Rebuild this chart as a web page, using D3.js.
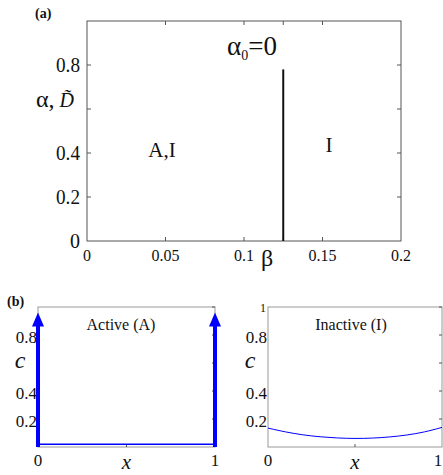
<!DOCTYPE html>
<html>
<head>
<meta charset="utf-8">
<script src="https://cdn.jsdelivr.net/npm/d3@7"></script>
<style>
  body { margin: 0; background: #fff; }
  svg text { font-family: "Liberation Serif", "Times New Roman", serif; fill: #111; }
</style>
</head>
<body>
<div id="chart"></div>
<script>
// panel (a): phase diagram
const aXTicks = [0, 0.05, 0.1, 0.15, 0.2]
const aYTicks = [0, 0.2, 0.4, 0.6, 0.8]
const aYTickLabels = ["0", "0.2", "0.4", "", "0.8"]
const boundaryBeta = [0.125, 0.125]
const boundaryAlpha = [0, 0.78]

// panel (b) left: active state, delta spikes at the ends
const activeX = [0, 1]
const activeBase = [0.02, 0.02]
const activeSpikeTop = 0.96

// panel (b) right: inactive state profile
const inactiveX = [0, 0.1, 0.2, 0.3, 0.4, 0.5, 0.6, 0.7, 0.8, 0.9, 1]
const inactiveC = [0.135, 0.107, 0.086, 0.072, 0.064, 0.060, 0.063, 0.071, 0.085, 0.106, 0.14]
const bYTicks = [0.2, 0.4, 0.6, 0.8, 1]

const W = 443, H = 475
const svg = d3.select('#chart').append('svg')
    .attr('width', W)
    .attr('height', H)
    .attr('font-family', '"Liberation Serif", serif')

// draws a matlab style frame
function box(g, x, y, frame) {
    const [x0, x1] = x.range(), [y0, y1] = y.range()
    g.append('rect')
        .attr('x', x0).attr('y', y1)
        .attr('width', x1 - x0).attr('height', y0 - y1)
        .attr('fill', 'none').attr('stroke', frame).attr('stroke-width', 1)
}

/*******   (a)   *******/
const ax = d3.scaleLinear().domain([0, 0.2]).range([87, 401])
const ay = d3.scaleLinear().domain([0, 1]).range([241, 21])
const ga = svg.append('g')
box(ga, ax, ay, '#555')

ga.selectAll('.xt').data([0.05, 0.1, 0.125, 0.15]).enter().append('path')
    .attr('d', d => `M${ax(d)},241v-4M${ax(d)},21v4`)
    .attr('stroke', '#555')
ga.selectAll('.yt').data([0.2, 0.4, 0.6, 0.8]).enter().append('path')
    .attr('d', d => `M87,${ay(d)}h4M401,${ay(d)}h-4`)
    .attr('stroke', '#555')

ga.selectAll('.xl').data(aXTicks).enter().append('text')
    .attr('x', d => ax(d))
    .attr('y', 261)
    .attr('text-anchor', 'middle')
    .attr('font-size', 16)
    .text(d => d === 0 ? "0" : d3.format('.2~f')(d))

ga.selectAll('.yl').data(aYTicks).enter().append('text')
    .attr('x', 80)
    .attr('y', d => ay(d) + 7)
    .attr('text-anchor', 'end')
    .attr('font-size', 20)
    .attr('textLength', d => d === 0 ? null : 24)
    .attr('lengthAdjust', 'spacingAndGlyphs')
    .text((d, i) => aYTickLabels[i])

ga.append('path')
    .datum(d3.zip(boundaryBeta, boundaryAlpha))
    .attr('d', d3.line().x(d => ax(d[0])).y(d => ay(d[1])))
    .attr('stroke', '#111')
    .attr('stroke-width', 2)

const yLab = ga.append('text').attr('x', 36).attr('y', 107)
yLab.append('tspan').attr('font-size', 24).text('α,')
yLab.append('tspan').attr('dx', 5).attr('font-size', 20).attr('font-style', 'italic').text('D\u0303')

const a0 = ga.append('text').attr('x', 227).attr('y', 55).attr('font-size', 27)
a0.append('tspan').text('α')
a0.append('tspan').attr('font-size', 14).attr('dy', 5).text('0')
a0.append('tspan').attr('dy', -5).text('=0')

ga.append('text').attr('x', 162).attr('y', 157).attr('text-anchor', 'middle').attr('font-size', 21).text('A,I')
ga.append('text').attr('x', 329).attr('y', 152).attr('text-anchor', 'middle').attr('font-size', 21).text('I')
ga.append('text').attr('x', 267).attr('y', 266).attr('text-anchor', 'middle').attr('font-size', 24).text('β')
svg.append('text').attr('x', 35).attr('y', 18).attr('font-size', 14).attr('font-weight', 'bold').text('(a)')
svg.append('text').attr('x', 7).attr('y', 306).attr('font-size', 14).attr('font-weight', 'bold').text('(b)')

/*******   (b) panels   *******/
function panelB(left, right, title, titleX) {
    const x = d3.scaleLinear().domain([0, 1]).range([left, right])
    const y = d3.scaleLinear().domain([0, 1]).range([447, 307])
    const g = svg.append('g')
    box(g, x, y, '#999')
    g.selectAll('.t').data([0.5]).enter().append('path')
        .attr('d', d => `M${x(d)},447v-3`)
        .attr('stroke', '#555')
    g.selectAll('.yt').data(bYTicks).enter().append('path')
        .attr('d', d => `M${right},${y(d)}h-3`)
        .attr('stroke', '#555')
    g.selectAll('.yl').data(bYTicks.filter(d => d !== 0.6 && d !== 1)).enter().append('text')
        .attr('x', left - 1)
        .attr('y', d => y(d) + 8)
        .attr('text-anchor', 'end')
        .attr('font-size', 17)
        .text(d => d)
    g.selectAll('.xl').data([0, 1]).enter().append('text')
        // keep the last label inside the window
        .attr('x', d => Math.min(x(d), W - 5))
        .attr('y', 466)
        .attr('text-anchor', 'middle')
        .attr('font-size', 17)
        .text(d => d)
    g.append('text').attr('x', left - 18).attr('y', y(0.6) + 5)
        .attr('text-anchor', 'middle').attr('font-size', 24).attr('font-style', 'italic').text('c')
    g.append('text').attr('x', x(0.5)).attr('y', 469)
        .attr('text-anchor', 'middle').attr('font-size', 21).attr('font-style', 'italic').text('x')
    g.append('text').attr('x', titleX).attr('y', 330)
        .attr('text-anchor', 'middle').attr('font-size', 16).text(title)
    return { g, x, y }
}

const pA = panelB(38, 215, 'Active (A)', 121)
pA.g.append('path')
    .datum(d3.zip(activeX, activeBase))
    .attr('d', d3.line().x(d => pA.x(d[0])).y(d => pA.y(d[1])))
    .attr('stroke', '#0000ff').attr('stroke-width', 1.5).attr('fill', 'none')
pA.g.selectAll('.spike').data(activeX).enter().append('line')
    .attr('x1', d => pA.x(d)).attr('x2', d => pA.x(d))
    .attr('y1', pA.y(0)).attr('y2', pA.y(activeSpikeTop) + 10)
    .attr('stroke', '#0000ff').attr('stroke-width', 4)
pA.g.selectAll('.head').data(activeX).enter().append('path')
    .attr('d', d => {
        const cx = pA.x(d), ty = pA.y(activeSpikeTop)
        return `M${cx},${ty}L${cx + 6},${ty + 14}L${cx - 6},${ty + 14}Z`
    })
    .attr('fill', '#0000ff')

const pI = panelB(268, 442, 'Inactive (I)', 351)
pI.g.append('text').attr('x', 266).attr('y', 312).attr('text-anchor', 'end').attr('font-size', 12).text('1')
pI.g.append('path')
    .datum(d3.zip(inactiveX, inactiveC))
    .attr('d', d3.line().curve(d3.curveBasis).x(d => pI.x(d[0])).y(d => pI.y(d[1])))
    .attr('stroke', '#0000ff').attr('stroke-width', 1).attr('fill', 'none')
</script>
</body>
</html>
